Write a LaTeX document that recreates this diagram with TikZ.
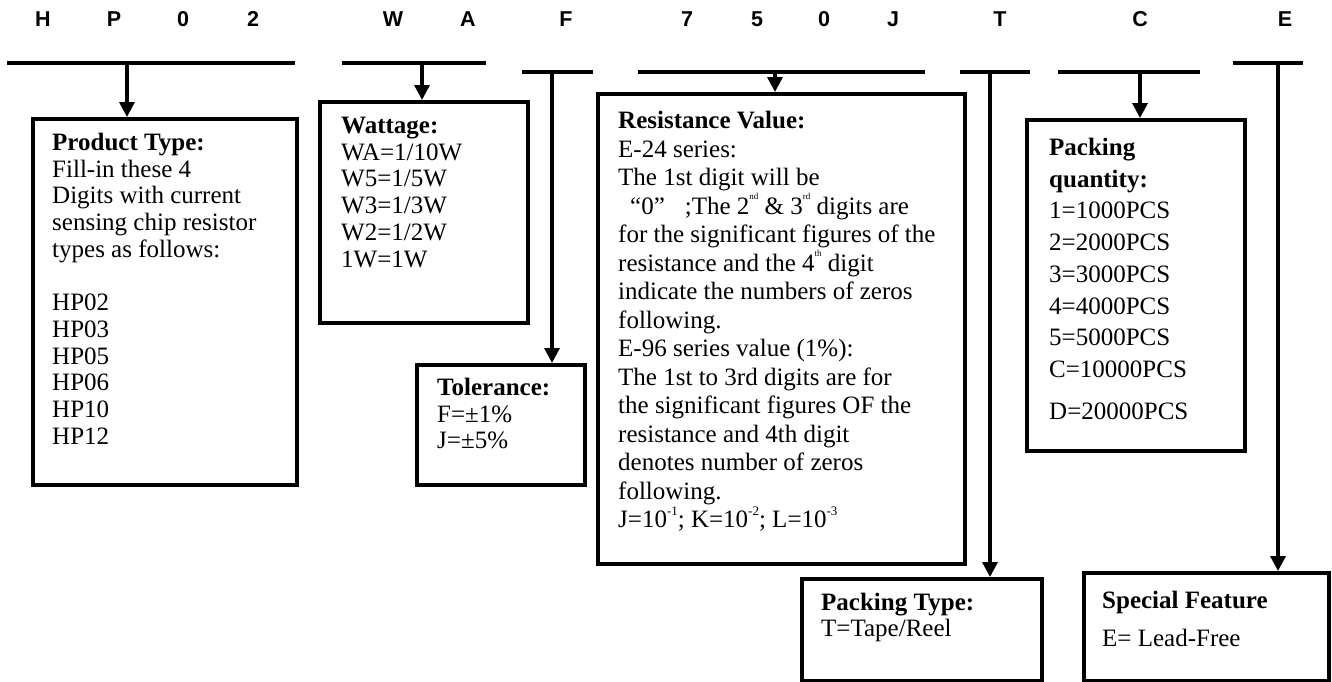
\documentclass[tikz,border=0pt]{standalone}
\usepackage{fontspec}
\setmainfont{Liberation Serif}
\newfontfamily\codefont{Liberation Sans}
\usetikzlibrary{arrows.meta}
\newcommand{\tinysup}[1]{\raisebox{0.6em}{\fontsize{9}{9}\selectfont #1}}
\newcommand{\expo}[1]{\raisebox{0.5em}{\fontsize{13}{13}\selectfont #1}}

\begin{document}
\begin{tikzpicture}[
    x=1pt, y=-1pt,
    code/.style={font=\codefont\bfseries\fontsize{21.5}{24}\selectfont, inner sep=0pt},
    bar/.style={fill=black, inner sep=0pt, minimum height=3.8pt},
    box/.style={draw, line width=3.5pt, inner sep=0pt, anchor=north west},
    txt/.style={align=left, inner sep=0pt, anchor=north west, font=\fontsize{25}{26.7}\selectfont},
    arr/.style={line width=3.4pt, -{Triangle[width=15pt,length=15pt]}}
  ]
  \useasboundingbox[fill=white] (0,0) rectangle (1332,681);

  % Part number letters
  \node[code] (cH) at (43,19) {H};
  \node[code] (cP) at (114,19) {P};
  \node[code] (cZa) at (183,19) {0};
  \node[code] (cTwo) at (253,19) {2};
  \node[code] (cW) at (393,19) {W};
  \node[code] (cA) at (468,19) {A};
  \node[code] (cF) at (566,19) {F};
  \node[code] (cSeven) at (687,19) {7};
  \node[code] (cFive) at (757,19) {5};
  \node[code] (cZb) at (824,19) {0};
  \node[code] (cJ) at (893,19) {J};
  \node[code] (cT) at (1000,19) {T};
  \node[code] (cC) at (1140,19) {C};
  \node[code] (cE) at (1285,19) {E};

  % Bars under the letter groups
  \node[bar, minimum width=288pt] (barHP) at (151,63) {};
  \node[bar, minimum width=144pt] (barWA) at (414,63) {};
  \node[bar, minimum width=71pt] (barF) at (557.5,72) {};
  \node[bar, minimum width=287pt] (barRV) at (781.5,72) {};
  \node[bar, minimum width=70pt] (barT) at (995,72) {};
  \node[bar, minimum width=142pt] (barC) at (1129,72) {};
  \node[bar, minimum width=70pt] (barE) at (1268,63) {};

  \coordinate (pHP) at (127,63);
  \coordinate (pWA) at (422,63);
  \coordinate (pF) at (552,72);
  \coordinate (pRV) at (775,72);
  \coordinate (pT) at (990,72);
  \coordinate (pC) at (1140,72);
  \coordinate (pE) at (1278,63);

  % Boxes
  \node[box, minimum width=264pt, minimum height=366pt] (prod) at (31,117) {};
  \node[box, minimum width=208pt, minimum height=221pt] (watt) at (318,100) {};
  \node[box, minimum width=168pt, minimum height=120pt] (tol) at (415,363) {};
  \node[box, minimum width=367pt, minimum height=470pt] (res) at (596,92) {};
  \node[box, minimum width=218pt, minimum height=331pt] (pqty) at (1025,118) {};
  \node[box, minimum width=240pt, minimum height=102pt] (ptype) at (800,577) {};
  \node[box, minimum width=245pt, minimum height=108pt] (spec) at (1082,571) {};

  % Box texts
  \node[txt] (prodTxt) at (52,133) {\textbf{Product Type:}\\Fill-in these 4\\Digits with current\\sensing chip resistor\\types as follows:\\[26.7pt]HP02\\HP03\\HP05\\HP06\\HP10\\HP12};
  \node[txt] (wattTxt) at (341,117) {\textbf{Wattage:}\\WA=1/10W\\W5=1/5W\\W3=1/3W\\W2=1/2W\\1W=1W};
  \node[txt] (tolTxt) at (437,378) {\textbf{Tolerance:}\\F=±1\%\\J=±5\%};
  \node[txt, font=\fontsize{25}{28.5}\selectfont] (resTxt) at (618,111) {\textbf{Resistance Value:}\\E-24 series:\\The 1st digit will be\\\hspace*{12pt}“0”\hspace{20pt};The 2\tinysup{nd} \& 3\tinysup{rd} digits are\\for the significant figures of the\\resistance and the 4\tinysup{th} digit\\indicate the numbers of zeros\\following.\\E-96 series value (1\%):\\The 1st to 3rd digits are for\\the significant figures OF the\\resistance and 4th digit\\denotes number of zeros\\following.\\J=10\expo{-1}; K=10\expo{-2}; L=10\expo{-3}};
  \node[txt, font=\fontsize{25}{31.7}\selectfont] (pqtyTxt) at (1049,138) {\textbf{Packing}\\\textbf{quantity:}\\1=1000PCS\\2=2000PCS\\3=3000PCS\\4=4000PCS\\5=5000PCS\\C=10000PCS\\[10pt]D=20000PCS};
  \node[txt, font=\fontsize{25}{26}\selectfont] (ptypeTxt) at (821,593) {\textbf{Packing Type:}\\T=Tape/Reel};
  \node[txt, font=\fontsize{25}{38}\selectfont] (specTxt) at (1102,591) {\textbf{Special Feature}\\E= Lead-Free};

  % Arrows from the bars to the boxes
  \draw[arr] (pHP) -- (pHP |- prod.north);
  \draw[arr] (pWA) -- (pWA |- watt.north);
  \draw[arr] (pF) -- (pF |- tol.north);
  \draw[arr] (pRV) -- (pRV |- res.north);
  \draw[arr] (pT) -- (pT |- ptype.north);
  \draw[arr] (pC) -- (pC |- pqty.north);
  \draw[arr] (pE) -- (pE |- spec.north);
\end{tikzpicture}
\end{document}
